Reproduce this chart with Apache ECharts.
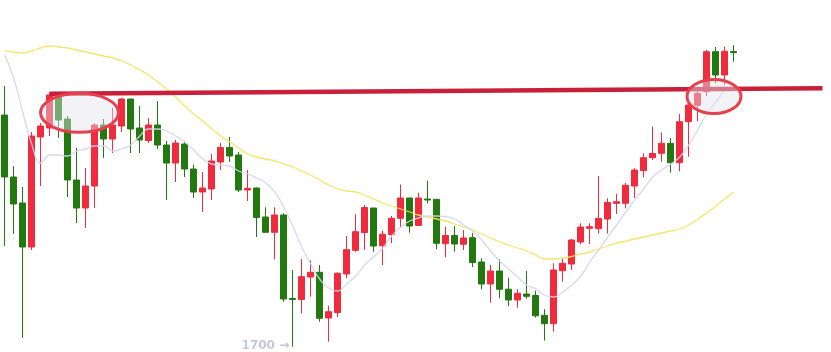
<!DOCTYPE html>
<html><head><meta charset="utf-8">
<script src="https://cdn.jsdelivr.net/npm/echarts@6/dist/echarts.min.js"></script>
<style>html,body{margin:0;padding:0;background:#fff}#c{width:831px;height:352px}</style>
</head><body><div id="c"></div><script>
// [open, close, low, high]
const candles = [
[1932,1870,1801,1961],[1870,1843,1813,1881],[1844,1800,1709,1860],[1800,1911,1797,1915],[1910,1921,1861,1924],
[1919,1952,1911,1955],[1950,1927,1909,1952],[1928,1867,1850,1931],[1867,1839,1824,1899],[1839,1861,1819,1879],
[1861,1922,1839,1924],[1922,1908,1889,1928],[1908,1922,1894,1939],[1921,1948,1915,1949],[1948,1918,1894,1948],
[1919,1907,1894,1941],[1906.5,1922,1904,1929],[1922,1902,1898,1946],[1902,1884,1847,1906],[1884,1904,1865,1907],
[1903,1878,1870,1906],[1878,1855,1849,1882.5],[1855,1859,1835,1875],[1858,1886,1847,1893],[1885,1899.5,1877,1904],
[1899.5,1891,1885,1910],[1892,1857,1855,1895],[1857,1858.7,1846,1877],[1859,1829.5,1810,1859.5],[1830,1814.7,1814,1839.7],
[1814.7,1832,1787.7,1839.7],[1832,1748,1745.3,1833.7],[1748.5,1747.5,1700.3,1777],[1747.5,1770.3,1733.7,1788],[1770,1774.7,1750.3,1786.7],
[1774.7,1728.7,1725.3,1782],[1729,1735.3,1705.3,1741.3],[1734.5,1773.7,1730,1774.7],[1773,1797.3,1768.7,1811],[1796.7,1815.3,1795.3,1832.8],
[1814.5,1839.5,1797,1842],[1839,1801,1795.3,1839],[1801.2,1812.8,1782,1816],[1812.5,1828.7,1804,1831],[1828.7,1849,1819,1862.5],
[1849,1821,1814.3,1849.3],[1821.5,1849,1821,1854.3],[1848,1847,1843.7,1866.3],[1847.7,1803.7,1797.8,1847.7],[1803.3,1811.5,1789.7,1820.3],
[1811.5,1803,1795.3,1821],[1802.8,1809,1797,1817],[1809.3,1784.5,1780,1814],[1785,1763,1757.8,1788.7],[1763,1776,1744.3,1782],
[1776,1757.7,1748.7,1787.7],[1757.8,1747,1741,1769.3],[1747,1753.7,1739.3,1757.8],[1753,1750.7,1748.3,1776],[1751.5,1731.2,1729.5,1756.3],
[1731.7,1723.3,1706.5,1737.8],[1723.3,1777,1715.3,1783.7],[1776.3,1783.7,1765.3,1788.5],[1783,1807,1777,1808.2],[1805,1820,1802.7,1823.7],
[1818.7,1820.3,1803,1823.7],[1818.3,1828.5,1813.3,1871],[1828,1844.5,1813.5,1848.7],[1843.7,1845.3,1833,1853.2],[1843.7,1861.7,1838.7,1864],
[1861,1877,1849,1878.7],[1876.5,1889.3,1869.7,1893.7],[1889.3,1893.5,1887,1920.3],[1893.7,1903.7,1885.3,1914.5],[1903.7,1884.3,1874.3,1909],
[1884.3,1925.3,1875.7,1933],[1925.3,1942,1890.3,1943],[1941.7,1953.7,1926,1957],[1955.3,1995.3,1951,1997],[1995.3,1972,1963.7,2000],
[1972,1995.8,1962,2000.3],[1995.5,1994.3,1985.3,2002]
];
const maFast = [1992,1969,1935,1903,1884,1892,1892,1891,1896,1898,1901,1901,1896,1898,1902,1911,1918,1918,1916,1911,
1905,1897,1888,1883,1882,1881,1876,1873,1869,1864,1855,1840,1821,1800,1783,1768,1759,1756,1763,1771,
1782,1790,1799,1811,1820,1826,1829,1831,1831,1830.5,1828,1822,1816,1807,1796,1786,1778,1770,1762,1758,
1752,1750,1755,1762,1771,1785,1797,1810,1822,1835,1847,1858,1870,1877,1883,1890,1902,1917,1933,1945,1957];
const maSlow = [1996,1995,1994,1996,1999,2001,2000,1999,1997,1995,1993,1991,1989,1986,1982,1977,1972,1965,1958,1950,
1941,1933,1926,1918,1911,1905,1899,1893,1890,1888,1886,1883,1880,1876,1872,1867,1862,1858,1856,1855,
1852,1848,1844,1841,1838,1835,1832,1830,1828,1826,1823,1820,1817,1813,1809,1805,1802,1799,1796,1792,
1788,1788,1789,1790.5,1793,1795,1798,1801,1804,1806,1808,1810,1812,1814,1816,1818,1822,1828,1834,1841,1848,1855];
const resistance = [[5.03,1953.3],[90.87,1958.7]];
// [centre slot, centre price, half-width (slots), half-height (price)]
const ellipses = [[8.31,1934.2,4.33,19.5],[78.81,1950.5,3.0,17]];
const lowNote = {slot: 32, price: 1700.3, text: '1700 \u2192'};
const emptySlots = 10;

const totalSlots = candles.length + emptySlots;
const categories = Array.from({length: totalSlots}, (_, i) => 'D' + (i + 1));
const candleData = candles.concat(Array(emptySlots).fill('-'));

const chart = echarts.init(document.getElementById('c'), null, {renderer: 'canvas'});
chart.setOption({
  animation: false,
  backgroundColor: '#ffffff',
  grid: {left: 0.2, right: 2.8, top: 0, bottom: 0},
  xAxis: [
    {type: 'category', data: categories, show: false, boundaryGap: true},
    {type: 'value', min: -0.5, max: totalSlots - 0.5, show: false}
  ],
  yAxis: {type: 'value', min: 1695, max: 2047, show: false, splitLine: {show: false}},
  series: [
    {
      type: 'candlestick', data: candleData, barWidth: 6, barMaxWidth: 6, z: 2,
      itemStyle: {color: '#ef2b3d', color0: '#22790f', borderColor: '#ef2b3d', borderColor0: '#22790f', borderWidth: 1},
      markPoint: {
        symbol: 'circle', symbolSize: 1, itemStyle: {color: 'rgba(0,0,0,0)'},
        label: {show: true, position: 'left', distance: 3, offset: [0, -1], formatter: lowNote.text, color: '#c3c7dc', fontSize: 12, fontFamily: 'DejaVu Sans', fontWeight: 'bold'},
        data: [{coord: [categories[lowNote.slot], lowNote.price], value: lowNote.price}]
      }
    },
    {type: 'line', data: maSlow, symbol: 'none', smooth: true, z: 3, lineStyle: {color: '#f3e35a', width: 1.3, opacity: 0.9}},
    {type: 'line', data: maFast, symbol: 'none', smooth: true, z: 3, lineStyle: {color: '#d3d4ea', width: 1.3, opacity: 0.9}},
    {type: 'line', xAxisIndex: 1, data: resistance, symbol: 'none', z: 4, lineStyle: {color: '#c8203a', width: 4.5, cap: 'butt'}},
    {
      type: 'custom', xAxisIndex: 1, yAxisIndex: 0, z: 10, silent: true, data: ellipses,
      renderItem: function (params, api) {
        const c = api.coord([api.value(0), api.value(1)]);
        const s = api.size([api.value(2), api.value(3)]);
        return {type: 'ellipse', shape: {cx: c[0], cy: c[1], rx: s[0], ry: s[1]},
          style: {fill: 'rgba(228,228,238,0.45)', stroke: '#e6404f', lineWidth: 3}};
      }
    }
  ]
});
</script></body></html>
